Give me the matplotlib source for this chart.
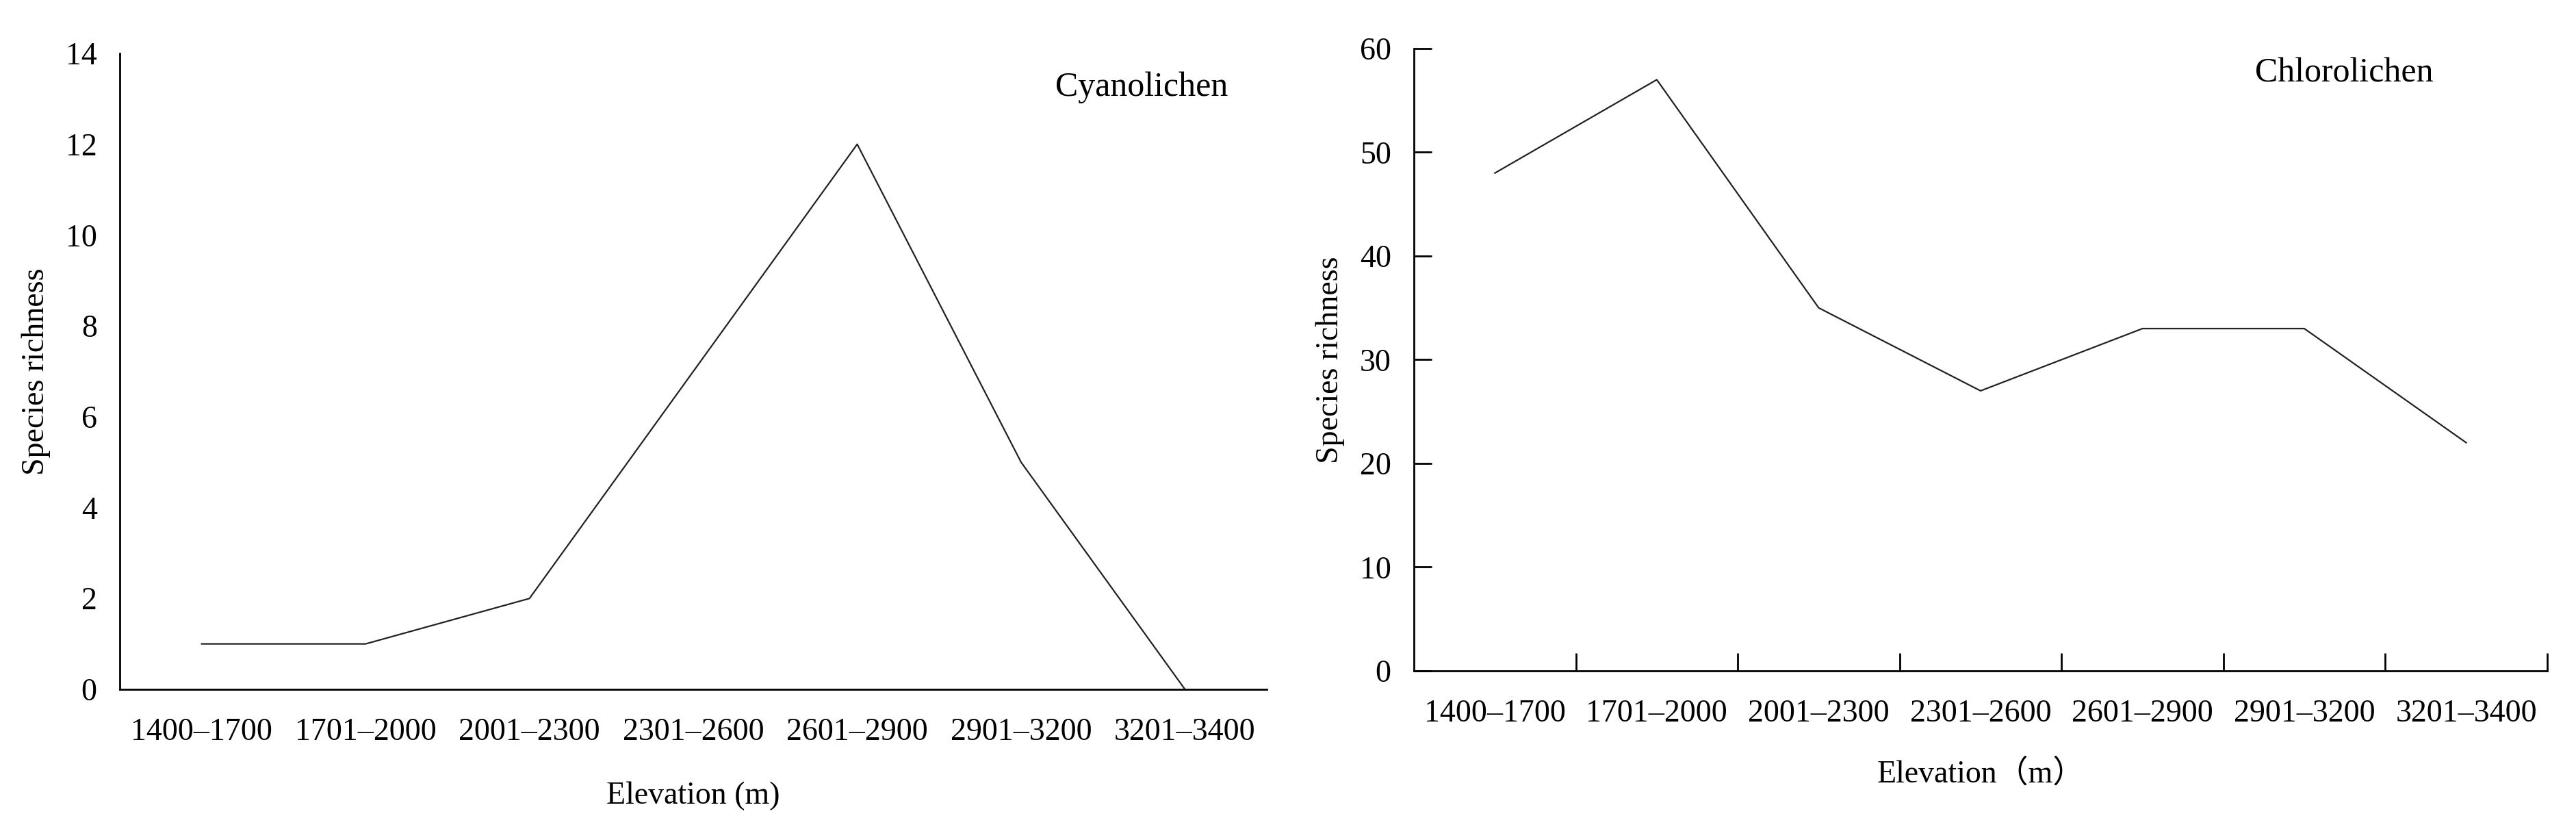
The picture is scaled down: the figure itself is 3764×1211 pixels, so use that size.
import matplotlib
matplotlib.use("Agg")
import matplotlib.pyplot as plt
import numpy as np

elevation_bands = ["1400–1700", "1701–2000", "2001–2300", "2301–2600",
                   "2601–2900", "2901–3200", "3201–3400"]
cyanolichen = [1, 1, 2, 7, 12, 5, 0]
chlorolichen = [48, 57, 35, 27, 33, 33, 22]

plt.rcParams['font.family'] = ['Liberation Serif', 'Noto Sans CJK SC']
FS = 33

fig = plt.figure(figsize=(37.64, 12.11), dpi=100)
ax1 = fig.add_axes([0.0465, 0.1685, 0.4453, 0.7671])
ax2 = fig.add_axes([0.5489, 0.1908, 0.4399, 0.7506])

x = np.arange(len(elevation_bands))

# left panel: cyanolichens
ax1.plot(x, cyanolichen, color='#222222', lw=1.6)
ax1.set_xlim(-0.5, 6.5)
ax1.set_ylim(0, 14)
ax1.set_yticks(np.arange(0, 15, 2))
ax1.set_xticks(x)
ax1.set_xticklabels(elevation_bands)
ax1.tick_params(axis='both', length=0, labelsize=FS)
ax1.tick_params(axis='x', pad=30)
ax1.tick_params(axis='y', pad=24)
ax1.text(0.891, 0.946, "Cyanolichen", transform=ax1.transAxes,
         fontsize=36, ha='center', va='center')
ax1.set_ylabel("Species richness", fontsize=FS, labelpad=16)
ax1.set_xlabel("Elevation (m)", fontsize=FS, labelpad=36)

# right panel: chlorolichens
ax2.plot(x, chlorolichen, color='#222222', lw=1.6)
ax2.set_xlim(-0.5, 6.5)
ax2.set_ylim(0, 60)
ax2.set_yticks(np.arange(0, 61, 10))
ax2.set_xticks(x)
ax2.set_xticklabels(elevation_bands)
ax2.set_xticks(np.arange(0.5, 7, 1), minor=True)
ax2.tick_params(axis='x', which='major', length=0, labelsize=FS, pad=30)
ax2.tick_params(axis='x', which='minor', direction='in', length=19, width=2)
ax2.tick_params(axis='y', direction='in', length=19, width=2, labelsize=FS, pad=24)
ax2.text(0.821, 0.960, "Chlorolichen", transform=ax2.transAxes,
         fontsize=36, ha='center', va='center')
ax2.set_ylabel("Species richness", fontsize=FS, labelpad=16)
ax2.set_xlabel("Elevation（m）", fontsize=FS, labelpad=32)

for ax in (ax1, ax2):
    ax.spines['top'].set_visible(False)
    ax.spines['right'].set_visible(False)
    for s in ('left', 'bottom'):
        ax.spines[s].set_linewidth(2)

fig.savefig("out.png", dpi=100, facecolor='white')
